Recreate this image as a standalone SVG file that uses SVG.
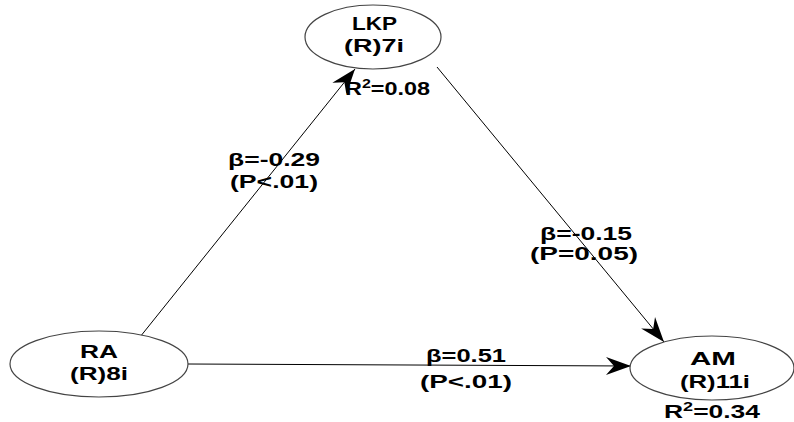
<svg xmlns="http://www.w3.org/2000/svg" width="794" height="422" viewBox="0 0 794 422">
<defs>
<marker id="arr" markerUnits="userSpaceOnUse" markerWidth="30" markerHeight="22" viewBox="-2 -11 30 22" refX="25" refY="0" orient="auto">
<path d="M0,-9 L25,0 L0,9 L8,0 z" fill="#000"/>
</marker>
<style>
.n{fill:#fff;stroke:#444;stroke-width:1.2}
.t{font-family:"Liberation Sans",Arial,sans-serif;font-weight:bold;font-size:19px;fill:#000}
.s{font-size:13px}
.e{stroke:#000;stroke-width:1;fill:none;marker-end:url(#arr)}
</style>
</defs>
<rect width="794" height="422" fill="#fff"/>
<g id="connectors">
<line class="e" x1="140" y1="337" x2="355" y2="69"/>
<line class="e" x1="437" y1="67" x2="664" y2="342"/>
<line class="e" x1="188" y1="364" x2="631" y2="366"/>
</g>
<g id="LKP">
<ellipse class="n" cx="373" cy="37" rx="68" ry="32"/>
<text class="t" x="352" y="30" textLength="45" lengthAdjust="spacingAndGlyphs">LKP</text>
<text class="t" x="344" y="52" textLength="60" lengthAdjust="spacingAndGlyphs">(R)7i</text>
<text class="t" x="345" y="95" textLength="85" lengthAdjust="spacingAndGlyphs">R<tspan class="s" dy="-7">2</tspan><tspan dy="7">=0.08</tspan></text>
</g>
<g id="RA">
<ellipse class="n" cx="99" cy="364" rx="89" ry="33"/>
<text class="t" x="80" y="358" textLength="38" lengthAdjust="spacingAndGlyphs">RA</text>
<text class="t" x="70" y="380" textLength="58" lengthAdjust="spacingAndGlyphs">(R)8i</text>
</g>
<g id="AM">
<ellipse class="n" cx="712" cy="368" rx="82" ry="32"/>
<text class="t" x="690" y="365" textLength="46" lengthAdjust="spacingAndGlyphs">AM</text>
<text class="t" x="680" y="388" textLength="70" lengthAdjust="spacingAndGlyphs">(R)11i</text>
<text class="t" x="664" y="418" textLength="96" lengthAdjust="spacingAndGlyphs">R<tspan class="s" dy="-7">2</tspan><tspan dy="7">=0.34</tspan></text>
</g>
<g id="labels">
<text class="t" x="228" y="166" textLength="92" lengthAdjust="spacingAndGlyphs">β=-0.29</text>
<text class="t" x="230" y="188" textLength="88" lengthAdjust="spacingAndGlyphs">(P&lt;.01)</text>
<text class="t" x="540" y="240" textLength="92" lengthAdjust="spacingAndGlyphs">β=-0.15</text>
<text class="t" x="530" y="260" textLength="108" lengthAdjust="spacingAndGlyphs">(P=0.05)</text>
<text class="t" x="426" y="362" textLength="80" lengthAdjust="spacingAndGlyphs">β=0.51</text>
<text class="t" x="420" y="388" textLength="92" lengthAdjust="spacingAndGlyphs">(P&lt;.01)</text>
</g>
</svg>
